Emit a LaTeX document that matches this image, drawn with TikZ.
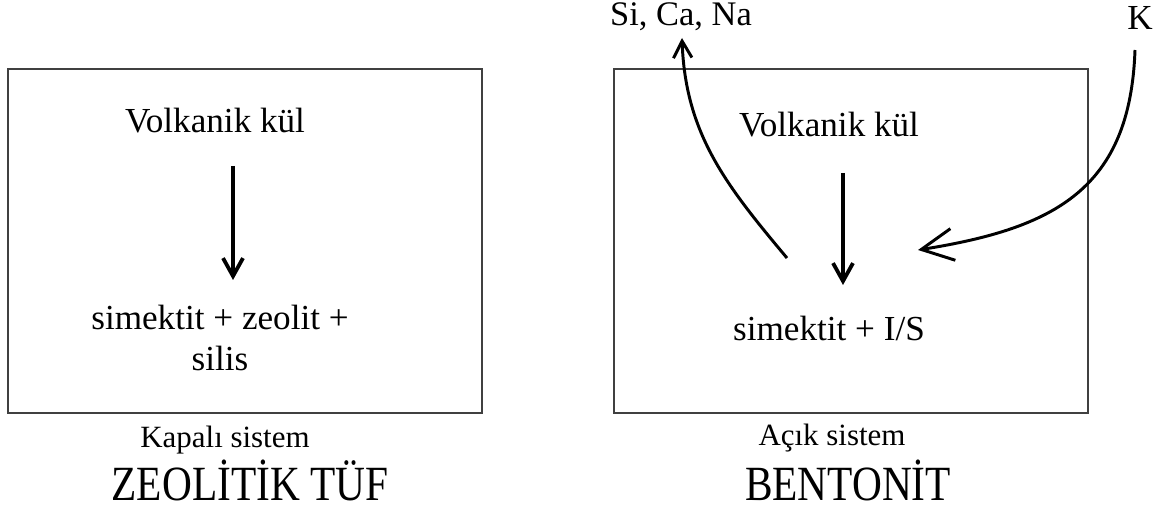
\documentclass[tikz,border=0pt]{standalone}
\usepackage{fontspec}
\setmainfont{Liberation Serif}
\newfontfamily\titlefont[FakeStretch=0.84]{Liberation Serif}
\usetikzlibrary{arrows.meta}
\usetikzlibrary{positioning}
\tikzset{lbl/.style = {anchor = base, inner sep = 0, font = \fontsize{25}{28.5}\selectfont}}
\tikzset{sublbl/.style = {anchor = base, inner sep = 0, font = \fontsize{22}{26}\selectfont}}
\tikzset{ttl/.style = {anchor = base, inner sep = 0, font = \titlefont\fontsize{35}{40}\selectfont}}
\tikzset{sysbox/.style = {draw = black!75, line width = 0.8pt}}
\tikzset{downarr/.style = {line width = 2.7pt, -{Straight Barb[length = 4.5mm, width = 5mm]}}}
\tikzset{outarr/.style = {line width = 2.1pt, -{Straight Barb[length = 4.2mm, width = 4.6mm]}}}
\tikzset{inarr/.style = {line width = 2.1pt, -{Straight Barb[length = 8mm, width = 8mm]}}}

\begin{document}
\begin{tikzpicture}
    \useasboundingbox (0, 0) rectangle (29.2, 12.75);

    % kapali sistem
    \draw [sysbox] (0.2, 2.425) rectangle (12.05, 11.025);
    \node [lbl] (kul1) at (5.375, 9.425) {Volkanik kül};
    \node [lbl, align = center] (urun1) at (5.5, 3.5) {simektit + zeolit +\\silis};
    \coordinate (d1top) at (5.825, 8.6);
    \coordinate (d1bot) at (5.825, 5.75);
    \draw [downarr] (d1top) -- (d1bot);
    \node [sublbl] (sis1) at (5.625, 1.575) {Kapalı sistem};
    \node [ttl] (ttl1) at (6.25, 0.25) {ZEOLİTİK TÜF};

    % acik sistem
    \draw [sysbox] (15.35, 2.425) rectangle (27.2, 11.025);
    \node [lbl] (kul2) at (20.725, 9.325) {Volkanik kül};
    \node [lbl] (urun2) at (20.725, 4.25) {simektit + I/S};
    \coordinate (d2top) at (21.075, 8.425);
    \coordinate (d2bot) at (21.075, 5.625);
    \draw [downarr] (d2top) -- (d2bot);
    \node [sublbl] (sis2) at (20.8, 1.625) {Açık sistem};
    \node [ttl] (ttl2) at (21.2, 0.25) {BENTONİT};

    % iyonlar
    \node [lbl, font = \fontsize{24.5}{28}\selectfont] (cikan) at (17.025, 12.1) {Si, Ca, Na};
    \node [lbl] (giren) at (28.5, 12.0) {K};
    \coordinate (cikbas) at (19.675, 6.3);
    \coordinate (cikuc) at (17.05, 11.8);
    \coordinate (girbas) at (28.375, 11.5);
    \coordinate (giruc) at (22.95, 6.5);
    \draw [outarr] (cikbas) to [out = 130, in = -88] (cikuc);
    \draw [inarr] (girbas) to [out = -92, in = 9, looseness = 1.2] (giruc);
  \end{tikzpicture}
\end{document}
